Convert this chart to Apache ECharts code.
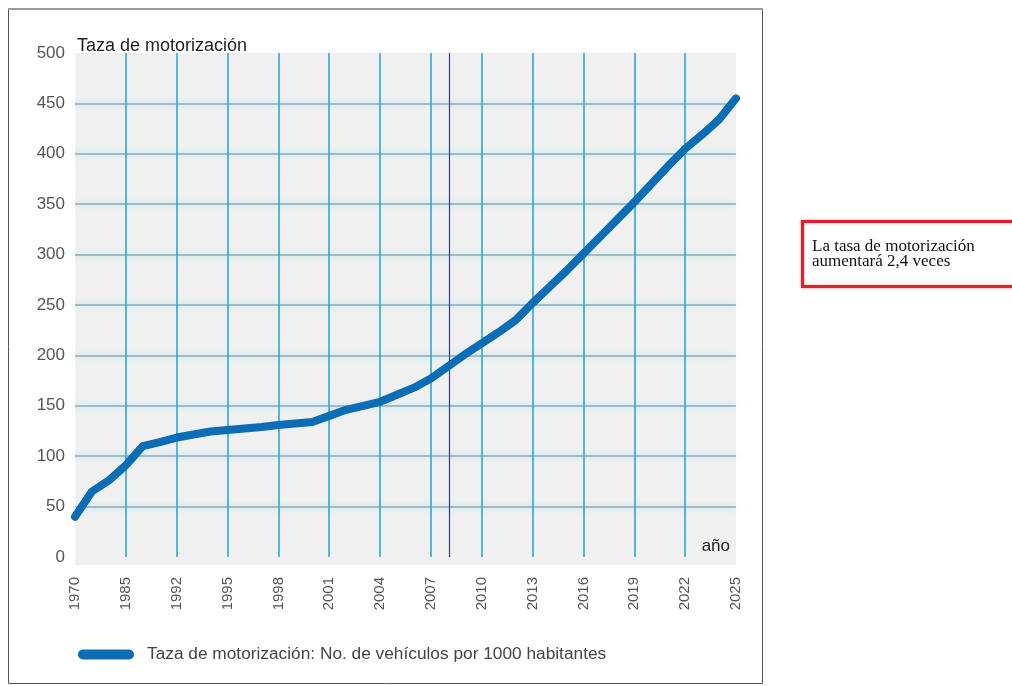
<!DOCTYPE html>
<html>
<head>
<meta charset="utf-8">
<script src="https://cdn.jsdelivr.net/npm/echarts@6/dist/echarts.min.js"></script>
<style>
  html, body { margin: 0; padding: 0; background: #ffffff; }
  #chart { width: 1012px; height: 686px; }
</style>
</head>
<body>
<div id="chart"></div>
<script>
// Year labels printed under the axis, one every three yearly steps
const tickLabels = ['1970', '1985', '1992', '1995', '1998', '2001', '2004',
                    '2007', '2010', '2013', '2016', '2019', '2022', '2025'];

// Vehicles per 1000 inhabitants, one value per yearly step along the axis
const rateValues = [40, 65, 76, 91, 110, 114, 118.5, 121.5, 124.5, 126,
                    127.5, 129, 131, 132.5, 134, 140, 146, 150, 154, 161,
                    168, 177, 189, 201, 212, 223, 235, 252, 268, 284,
                    301, 318, 335, 352, 370, 388, 405, 419, 434, 455];

// Position of the dark "present year" marker, in yearly steps
const currentStep = [22.1];

// Y axis ticks
const yTicks = [0, 50, 100, 150, 200, 250, 300, 350, 400, 450, 500];

const seriesName = 'Taza de motorización: No. de vehículos por 1000 habitantes';
const noteLines = ['La tasa de motorización', 'aumentará 2,4 veces'];

const FONT = "'Liberation Sans', Arial, sans-serif";
const LINE_BLUE = '#0b6db5';

const stepsPerLabel = 3;
const lastStep = (tickLabels.length - 1) * stepsPerLabel;

// horizontal grid: grey-blue, the 450 line a lighter blue
const ySplitColors = yTicks.map(v => (v === 450 ? '#9ccbdf' : '#86adbd'));

const chart = echarts.init(document.getElementById('chart'), null, { renderer: 'canvas' });

chart.setOption({
  animation: false,
  backgroundColor: '#ffffff',
  textStyle: { fontFamily: FONT },
  grid: {
    left: 75, right: 276, top: 53, bottom: 129,
    show: true, backgroundColor: '#f0f0f0', borderWidth: 0
  },
  xAxis: {
    type: 'value',
    min: 0,
    max: lastStep,
    interval: stepsPerLabel,
    name: 'año',
    nameLocation: 'end',
    nameGap: -6,
    nameTextStyle: {
      fontSize: 17, color: '#222', fontFamily: FONT,
      align: 'right', verticalAlign: 'bottom', padding: [0, 0, 2, 0]
    },
    axisLine: { show: false },
    axisTick: { show: false },
    axisLabel: {
      rotate: 90,
      fontSize: 15,
      color: '#555',
      fontFamily: FONT,
      margin: 20,
      formatter: v => tickLabels[Math.round(v / stepsPerLabel)] || ''
    },
    splitLine: {
      show: true, showMinLine: false, showMaxLine: false,
      lineStyle: { color: '#1ea4d6', width: 1.5 }
    }
  },
  yAxis: {
    type: 'value',
    min: 0,
    max: 500,
    interval: 50,
    name: 'Taza de motorización',
    nameLocation: 'end',
    nameGap: -2,
    nameTextStyle: {
      fontSize: 18, color: '#1e1e1e', fontFamily: FONT,
      align: 'left', verticalAlign: 'bottom', padding: [0, 0, 0, 2]
    },
    axisLine: { show: false },
    axisTick: { show: false },
    axisLabel: { fontSize: 17, color: '#555', fontFamily: FONT, margin: 10, padding: [5, 0, 0, 0] },
    splitLine: {
      show: true, showMinLine: false, showMaxLine: false,
      lineStyle: {
        color: ySplitColors, width: 1.5,
        shadowColor: 'rgba(150,220,242,0.9)', shadowBlur: 6
      }
    }
  },
  legend: {
    left: 78,
    top: 646,
    padding: 0,
    itemWidth: 56,
    itemHeight: 10,
    icon: 'path://M5,0 L51,0 A5,5 0 0 1 51,10 L5,10 A5,5 0 0 1 5,0 Z',
    itemStyle: { color: LINE_BLUE },
    textStyle: { fontSize: 17.3, color: '#444', fontFamily: FONT, padding: [0, 0, 0, 8] },
    data: [seriesName]
  },
  series: [{
    name: seriesName,
    type: 'line',
    data: rateValues.map((v, i) => [i, v]),
    showSymbol: false,
    symbol: 'none',
    lineStyle: { color: LINE_BLUE, width: 8, cap: 'round', join: 'round' },
    itemStyle: { color: LINE_BLUE },
    z: 5,
    markLine: {
      silent: true,
      symbol: ['none', 'none'],
      label: { show: false },
      lineStyle: { color: '#3b3d85', width: 1.2, type: 'solid' },
      data: currentStep.map(x => ({ xAxis: x }))
    }
  }],
  graphic: [
    // outer frame around the figure
    {
      type: 'rect', silent: true,
      shape: { x: 8.5, y: 9.5, width: 754, height: 674 },
      style: { fill: 'none', stroke: '#555', lineWidth: 1 }
    },
    {
      type: 'line', silent: true,
      shape: { x1: 8, y1: 9, x2: 763, y2: 9 },
      style: { stroke: '#9a9a9a', lineWidth: 2 }
    },
    // plot background continues a little below the zero line
    {
      type: 'rect', silent: true,
      shape: { x: 75, y: 557, width: 661, height: 8 },
      style: { fill: '#f0f0f0' }
    },
    // side note
    {
      type: 'rect', silent: true,
      shape: { x: 802.5, y: 221.5, width: 216, height: 65 },
      style: {
        fill: '#ffffff', stroke: '#e0202c', lineWidth: 3,
        shadowColor: 'rgba(230,60,70,0.5)', shadowBlur: 3
      }
    },
    {
      type: 'text', silent: true,
      left: 812, top: 238,
      style: {
        text: noteLines.join('\n'),
        fill: '#111',
        font: "17px 'Liberation Serif', 'Times New Roman', serif",
        lineHeight: 15
      }
    }
  ]
});
</script>
</body>
</html>
